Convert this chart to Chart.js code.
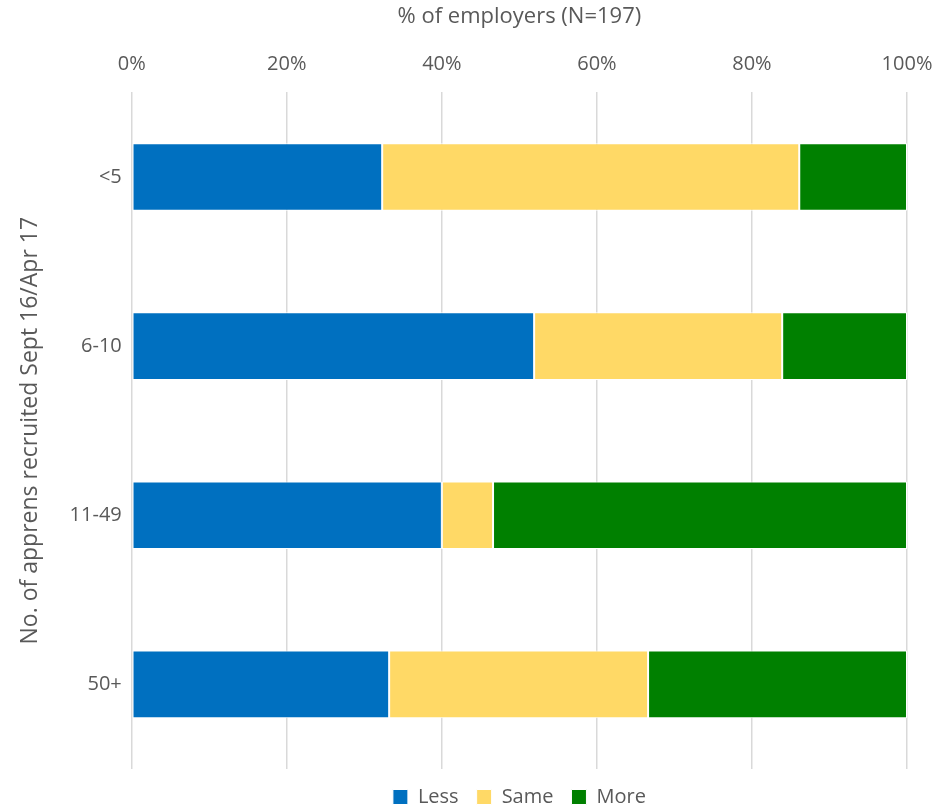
<!DOCTYPE html>
<html>
<head>
<meta charset="utf-8">
<script src="https://cdn.jsdelivr.net/npm/chart.js@4/dist/chart.umd.min.js"></script>
<style>
  html, body { margin: 0; padding: 0; background: #fff; }
  #wrap { width: 937px; height: 811px; }
</style>
</head>
<body>
<div id="wrap"><canvas id="chart"></canvas></div>
<script>
const categories = ['<5', '6-10', '11-49', '50+'];
const lessValues = [32.3, 51.9, 40.0, 33.2];
const sameValues = [53.8, 32.0, 6.6, 33.4];
const moreValues = [13.9, 16.1, 53.4, 33.4];
const xTicks = [0, 20, 40, 60, 80, 100];

Chart.defaults.color = '#595959';
Chart.defaults.font.family = "'Open Sans', sans-serif";

new Chart(document.getElementById('chart'), {
    type: 'bar',
    data: {
        labels: categories,
        datasets: [
            { label: 'Less', data: lessValues, backgroundColor: '#0070C0' },
            { label: 'Same', data: sameValues, backgroundColor: '#FFD966' },
            { label: 'More', data: moreValues, backgroundColor: '#008000' }
        ].map(ds => ({ ...ds, borderColor: '#ffffff', borderWidth: 1, borderSkipped: false, barPercentage: 0.4, categoryPercentage: 1 }))
    },
    options: {
        indexAxis: 'y',
        responsive: true,
        maintainAspectRatio: false,
        animation: false,
        layout: { padding: { top: 4, right: 30, bottom: -6, left: 17 } },
        plugins: {
            legend: {
                position: 'bottom',
                fullSize: false,
                labels: { boxWidth: 15, boxHeight: 15, font: { size: 20 }, padding: 18 }
            },
            tooltip: { enabled: false }
        },
        scales: {
            x: {
                position: 'top',
                stacked: true,
                min: 0,
                max: 100,
                afterBuildTicks: axis => { axis.ticks = xTicks.map(v => ({ value: v })); },
                // let the 100% label hang into the right padding
                afterFit: axis => { axis.paddingRight = 0; axis.paddingLeft = 0; },
                ticks: { callback: v => v + '%', font: { size: 20 }, padding: 16 },
                grid: { color: '#d9d9d9', lineWidth: 1.5, drawTicks: false },
                border: { display: false },
                title: { display: true, text: '% of employers (N=197)', font: { size: 22 }, padding: { top: 0, bottom: 6 } }
            },
            y: {
                stacked: true,
                ticks: { font: { size: 20 }, padding: 2 },
                grid: { display: false },
                border: { display: false },
                title: { display: true, text: 'No. of apprens recruited Sept 16/Apr 17', font: { size: 23 }, padding: { top: 0, bottom: 23 } }
            }
        }
    }
});
</script>
</body>
</html>
